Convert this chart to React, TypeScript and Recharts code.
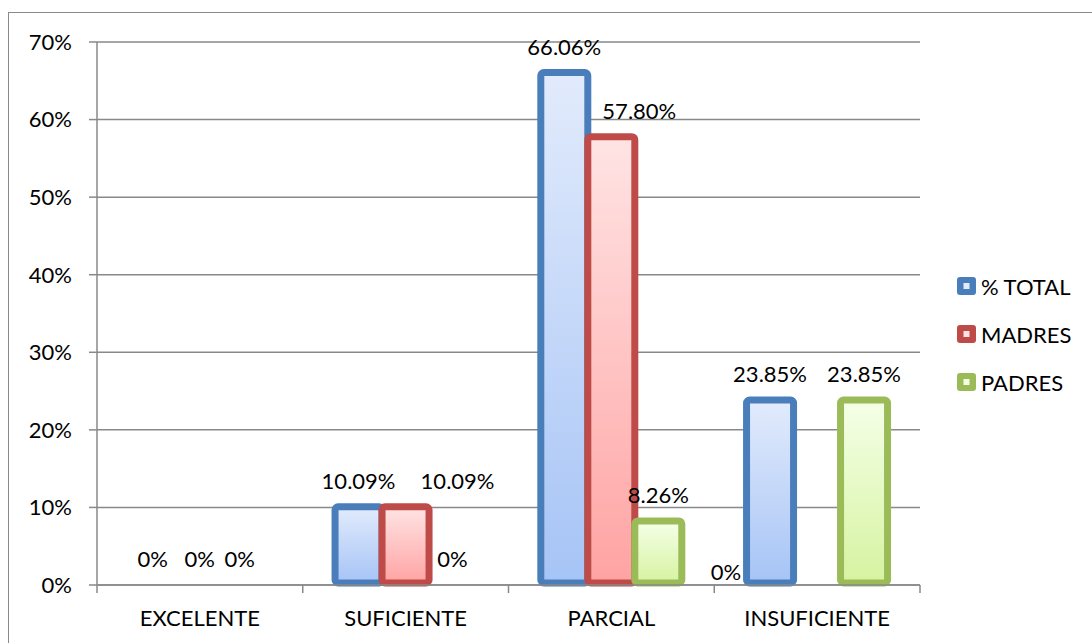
import { Bar, BarChart, CartesianGrid, LabelList, Legend, XAxis, YAxis } from 'recharts'

const categories = ['EXCELENTE', 'SUFICIENTE', 'PARCIAL', 'INSUFICIENTE']
const totalValues = [0, 10.09, 66.06, 23.85]
const madresValues = [0, 10.09, 57.8, 0]
const padresValues = [0, 0, 8.26, 23.85]
const yTicks = [0, 10, 20, 30, 40, 50, 60, 70]

const data = categories.map((name, i) => ({
  name,
  total: totalValues[i],
  madres: madresValues[i],
  padres: padresValues[i],
}))

const FONT = 'Lato, "Liberation Sans", sans-serif'
const FONT_SIZE = 22
const AXIS = '#898989'
const PLOT_W = 823

const series = [
  { key: 'total', name: '% TOTAL', stroke: '#4A7EBB', top: '#E2EBFC', bottom: '#A6C4F6' },
  { key: 'madres', name: 'MADRES', stroke: '#BE4B48', top: '#FFE4E4', bottom: '#FFA3A3' },
  { key: 'padres', name: 'PADRES', stroke: '#9BBB59', top: '#F5FFE8', bottom: '#D6F3A0' },
]

// hand-placed data labels (Excel moved a few of them off the bar centre)
const labelNudge: Record<string, [number, number]> = {
  'madres-1': [52, 0],
  'madres-2': [28, 0],
  'madres-3': [-91, 13],
  'padres-0': [-7, 0],
}

const fmt = (v: number) => (v === 0 ? '0%' : `${v.toFixed(2)}%`)

function OutlinedBar(props: any) {
  const { x, y, width, height, stroke, gradId } = props
  if (!height || height <= 0) return null
  return (
    <rect
      x={x}
      y={y}
      width={width}
      height={height - 2}
      rx={3}
      ry={3}
      fill={`url(#${gradId})`}
      stroke={stroke}
      strokeWidth={7}
    />
  )
}

function makeLabel(key: string) {
  return (props: any) => {
    const { x, y, width, value, index } = props
    const [dx, dy] = labelNudge[`${key}-${index}`] ?? [0, 0]
    return (
      <text
        x={x + width / 2 + dx}
        y={y - 18 + dy}
        textAnchor="middle"
        fontFamily={FONT}
        fontSize={FONT_SIZE}
        fill="#000"
      >
        {fmt(value)}
      </text>
    )
  }
}

function CategoryTick(props: any) {
  const { x, y, payload, index } = props
  const band = PLOT_W / categories.length
  return (
    <g>
      <line x1={x - band / 2} x2={x - band / 2} y1={y} y2={y + 8} stroke={AXIS} strokeWidth={1.5} />
      {index === categories.length - 1 && (
        <line x1={x + band / 2} x2={x + band / 2} y1={y} y2={y + 8} stroke={AXIS} strokeWidth={1.5} />
      )}
      <text x={x} y={y + 41} textAnchor="middle" fontFamily={FONT} fontSize={FONT_SIZE} fill="#000">
        {payload.value}
      </text>
    </g>
  )
}

function SeriesLegend() {
  return (
    <div style={{ fontFamily: FONT, fontSize: FONT_SIZE, color: '#000' }}>
      {series.map((s) => (
        <div key={s.key} style={{ display: 'flex', alignItems: 'center', height: 48 }}>
          <svg width={24} height={20} style={{ marginRight: 2 }}>
            <rect x={2} y={1} width={19} height={18} rx={3} fill={s.stroke} />
            <rect x={8.5} y={7} width={6} height={6} fill={s.top} />
          </svg>
          <span>{s.name}</span>
        </div>
      ))}
    </div>
  )
}

export default function App() {
  return (
    <div style={{ position: 'relative', width: 1092, height: 643, background: '#fff', overflow: 'hidden' }}>
      <style>{'body{margin:0}'}</style>
      <div
        style={{
          position: 'absolute',
          left: 8,
          top: 12,
          width: 1200,
          height: 700,
          borderTop: '1.5px solid #8a8a8a',
          borderLeft: '1.5px solid #8a8a8a',
        }}
      />
      <BarChart
        width={1092}
        height={643}
        data={data}
        margin={{ top: 42, right: 172, bottom: 0, left: 0 }}
        barCategoryGap="15.7%"
        barGap={0}
        style={{ position: 'absolute', left: 0, top: 0 }}
      >
        <defs>
          {series.map((s) => (
            <linearGradient key={s.key} id={`grad-${s.key}`} x1="0" y1="0" x2="0" y2="1">
              <stop offset="0%" stopColor={s.top} />
              <stop offset="100%" stopColor={s.bottom} />
            </linearGradient>
          ))}
        </defs>
        <CartesianGrid vertical={false} stroke={AXIS} strokeWidth={1.5} />
        <XAxis
          dataKey="name"
          height={58}
          interval={0}
          tickLine={false}
          tickSize={0}
          tickMargin={0}
          axisLine={{ stroke: AXIS, strokeWidth: 1.5 }}
          tick={<CategoryTick />}
        />
        <YAxis
          width={97}
          domain={[0, 70]}
          ticks={yTicks}
          interval={0}
          tickFormatter={(v: number) => `${v}%`}
          tickSize={8}
          tickMargin={17}
          axisLine={{ stroke: AXIS, strokeWidth: 1.5 }}
          tickLine={{ stroke: AXIS, strokeWidth: 1.5 }}
          tick={{ fontFamily: FONT, fontSize: FONT_SIZE, fill: '#000' }}
        />
        <Legend
          layout="horizontal"
          verticalAlign="middle"
          align="center"
          wrapperStyle={{ left: 955, top: 262, width: 140 }}
          content={<SeriesLegend />}
        />
        {series.map((s) => (
          <Bar
            key={s.key}
            dataKey={s.key}
            name={s.name}
            isAnimationActive={false}
            shape={(p: any) => <OutlinedBar {...p} stroke={s.stroke} gradId={`grad-${s.key}`} />}
          >
            <LabelList dataKey={s.key} content={makeLabel(s.key)} />
          </Bar>
        ))}
      </BarChart>
    </div>
  )
}
